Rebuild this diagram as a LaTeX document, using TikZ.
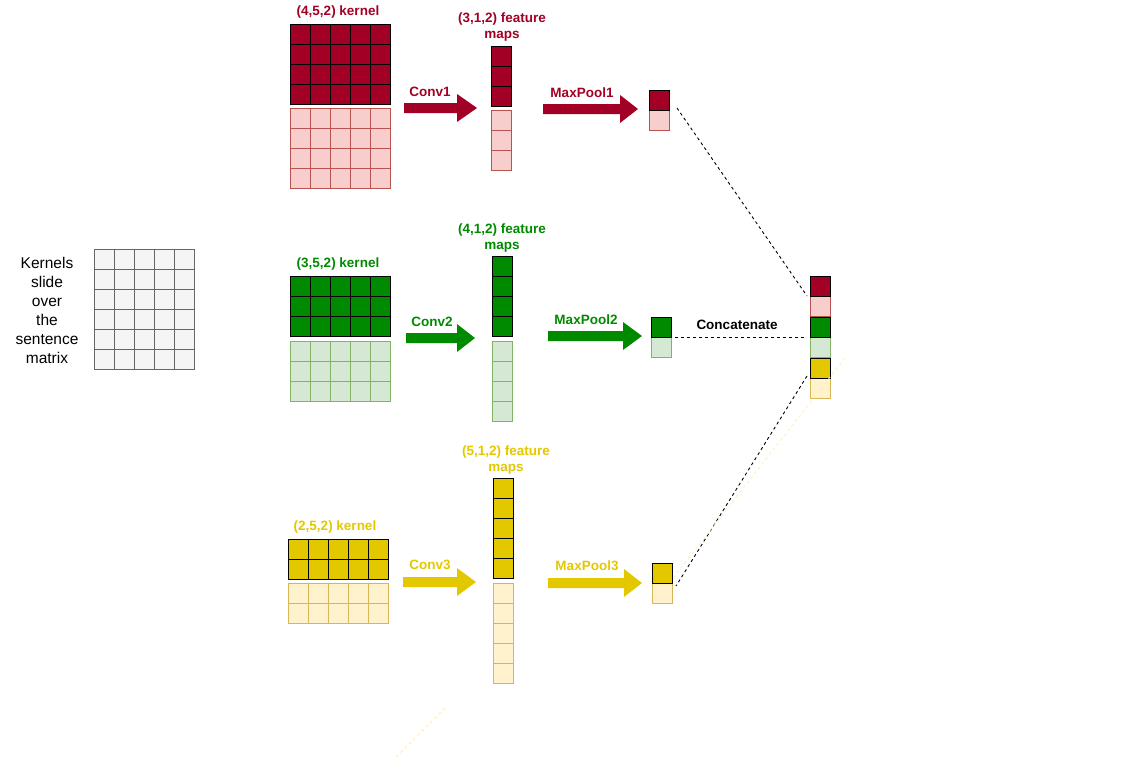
\documentclass[tikz,border=0pt]{standalone}
\usepackage{fontspec}
\setmainfont{Liberation Sans}
\usetikzlibrary{calc}
\definecolor{kred}{HTML}{A20025}
\definecolor{kpink}{HTML}{F8CECC}
\definecolor{kpinkd}{HTML}{B85450}
\definecolor{kgreen}{HTML}{008A00}
\definecolor{klgreen}{HTML}{D5E8D4}
\definecolor{klgreend}{HTML}{82B366}
\definecolor{kyel}{HTML}{E3C800}
\definecolor{klyel}{HTML}{FFF2CC}
\definecolor{klyeld}{HTML}{D6B656}
\definecolor{kgray}{HTML}{F5F5F5}
\definecolor{kgrayd}{HTML}{666666}
\definecolor{kfaint}{HTML}{FFEDB8}
\newcommand\cellgrid[6]{%
  \node[minimum width=#4*20pt, minimum height=#5*20pt, inner sep=0pt, outer sep=0pt, anchor=north west] (#1) at (#2,#3) {};
  \foreach \ci in {1,...,#4}{\foreach \cj in {1,...,#5}{%
    \draw[#6] ({#2+20*(\ci-1)},{#3+20*(\cj-1)}) rectangle ++(20,20);}}%
}
\newcommand\fatarrow[5]{%
  \fill[#1] (#2,#5-5) -- (#3,#5-5) -- (#3,#5-14) -- (#4,#5) -- (#3,#5+14) -- (#3,#5+5) -- (#2,#5+5) -- cycle;%
}
\begin{document}
\begin{tikzpicture}[x=1pt,y=-1pt,
  lbl/.style={font=\fontsize{13.5}{16}\selectfont\bfseries, inner sep=0pt, align=center},
  redlbl/.style={lbl, text=kred},
  greenlbl/.style={lbl, text=kgreen},
  yellbl/.style={lbl, text=kyel},
  dcell/.style={draw=black, line width=1pt},
  redD/.style={dcell, fill=kred},
  redL/.style={fill=kpink, draw=kpinkd, line width=1pt},
  greenD/.style={dcell, fill=kgreen},
  greenL/.style={fill=klgreen, draw=klgreend, line width=1pt},
  yelD/.style={dcell, fill=kyel},
  yelL/.style={fill=klyel, draw=klyeld, line width=1pt},
  grayC/.style={fill=kgray, draw=kgrayd, line width=1pt},
  dline/.style={draw=black, line width=0.9pt, dash pattern=on 3pt off 3pt},
  fline/.style={draw=kfaint, line width=0.8pt, dash pattern=on 3pt off 3pt}
]
\useasboundingbox (0,0) rectangle (1145,758);

% sentence matrix
\node[font=\fontsize{15.5}{19}\selectfont, align=center, inner sep=0pt] (stext) at (47,310) {Kernels\\slide\\over\\the\\sentence\\matrix};
\cellgrid{sent}{94}{249}{5}{6}{grayC}

% ---------- red branch ----------
\node[redlbl] (rk) at (338,12) {(4,5,2) kernel};
\cellgrid{rkd}{290}{24}{5}{4}{redD}
\cellgrid{rkl}{290}{108}{5}{4}{redL}
\node[redlbl] (rf) at (502,27) {(3,1,2) feature\\maps};
\cellgrid{rfd}{491}{46}{1}{3}{redD}
\cellgrid{rfl}{491}{110}{1}{3}{redL}
\node[redlbl] (rc) at (430,92) {Conv1};
\fatarrow{kred}{404}{457}{477}{108}
\node[redlbl] (rm) at (582,93) {MaxPool1};
\fatarrow{kred}{543}{620}{638}{109}
\cellgrid{p1l}{649}{110}{1}{1}{redL}
\cellgrid{p1d}{649}{90}{1}{1}{redD}

% ---------- green branch ----------
\node[greenlbl] (gk) at (338,264) {(3,5,2) kernel};
\cellgrid{gkd}{290}{276}{5}{3}{greenD}
\cellgrid{gkl}{290}{341}{5}{3}{greenL}
\node[greenlbl] (gf) at (502,238) {(4,1,2) feature\\maps};
\cellgrid{gfd}{492}{256}{1}{4}{greenD}
\cellgrid{gfl}{492}{341}{1}{4}{greenL}
\node[greenlbl] (gc) at (432,322) {Conv2};
\fatarrow{kgreen}{406}{457}{475}{338}
\node[greenlbl] (gm) at (586,320) {MaxPool2};
\fatarrow{kgreen}{548}{623}{642}{336}
\cellgrid{p2l}{651}{337}{1}{1}{greenL}
\cellgrid{p2d}{651}{317}{1}{1}{greenD}

% ---------- yellow branch ----------
\node[yellbl] (yk) at (335,527) {(2,5,2) kernel};
\cellgrid{ykd}{288}{539}{5}{2}{yelD}
\cellgrid{ykl}{288}{583}{5}{2}{yelL}
\node[yellbl] (yf) at (506,460) {(5,1,2) feature\\maps};
\cellgrid{yfd}{493}{478}{1}{5}{yelD}
\cellgrid{yfl}{493}{583}{1}{5}{yelL}
\node[yellbl] (yc) at (430,565) {Conv3};
\fatarrow{kyel}{403}{457}{476}{582}
\node[yellbl] (ym) at (587,566) {MaxPool3};
\fatarrow{kyel}{548}{624}{642}{583}
\cellgrid{p3l}{652}{583}{1}{1}{yelL}
\cellgrid{p3d}{652}{563}{1}{1}{yelD}

% ---------- concatenated column ----------
\cellgrid{c2}{810}{296}{1}{1}{redL}
\cellgrid{c1}{810}{276}{1}{1}{redD}
\cellgrid{c4}{810}{337}{1}{1}{greenL}
\cellgrid{c3}{810}{317}{1}{1}{greenD}
\cellgrid{c6}{810}{378}{1}{1}{yelL}
\cellgrid{c5}{810}{358}{1}{1}{yelD}
\node[font=\fontsize{13.5}{16}\selectfont\bfseries, inner sep=0pt] (cat) at (737,325) {Concatenate};

% connectors
\draw[dline] ($(p1d.south east)+(8,-2)$) -- ($(c1.south west)+(-3,0)$);
\draw[dline] ($(p2d.south east)+(4,0)$) -- ($(c3.south west)+(-4,0)$);
\draw[dline] ($(c5.south west)+(-3,-2)$) -- ($(p3d.south east)+(4,3)$);

% faint stray connectors
\coordinate (fa1) at (845,358);
\coordinate (fa2) at (673,578);
\coordinate (fb1) at (445,708);
\coordinate (fb2) at (396,757);
\draw[fline] (fa1) -- (fa2);
\draw[fline] (fb1) -- (fb2);
\end{tikzpicture}
\end{document}
